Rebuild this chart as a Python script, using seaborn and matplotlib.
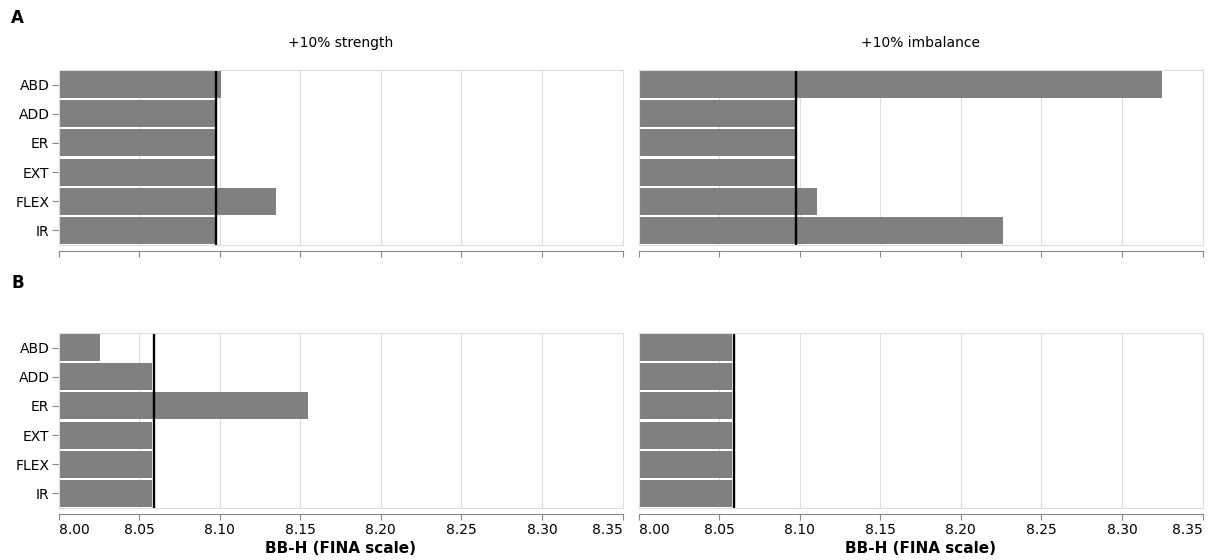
import pandas as pd
import seaborn as sns
import matplotlib.pyplot as plt
from matplotlib.patches import Rectangle

# Data
muscles = ["ABD", "ADD", "ER", "EXT", "FLEX", "IR"]
conditions = ["+10% strength", "+10% imbalance"]
a_strength = [8.101, 8.097, 8.097, 8.097, 8.135, 8.097]
a_imbalance = [8.325, 8.097, 8.097, 8.097, 8.111, 8.226]
b_strength = [8.026, 8.058, 8.155, 8.058, 8.058, 8.058]
b_imbalance = [8.058, 8.058, 8.058, 8.058, 8.058, 8.058]
baseline_a = 8.098
baseline_b = 8.059
x_ticks = [8.00, 8.05, 8.10, 8.15, 8.20, 8.25, 8.30, 8.35]
x_title = "BB-H (FINA scale)"


def build_frame():
    rows = []
    series = {("A", conditions[0]): a_strength, ("A", conditions[1]): a_imbalance,
              ("B", conditions[0]): b_strength, ("B", conditions[1]): b_imbalance}
    for (panel, cond), vals in series.items():
        for m, v in zip(muscles, vals):
            rows.append({"panel": panel, "condition": cond, "muscle": m, "score": v})
    return pd.DataFrame(rows)


def run():
    df = build_frame()
    baselines = {"A": baseline_a, "B": baseline_b}

    sns.set_theme(style="white")
    plt.rcParams["font.family"] = ["DejaVu Sans"]
    plt.rcParams["text.color"] = "black"
    plt.rcParams["axes.labelcolor"] = "black"
    plt.rcParams["xtick.labelcolor"] = "black"
    plt.rcParams["ytick.labelcolor"] = "black"

    W, H = 1209, 560
    fig = plt.figure(figsize=(W / 100, H / 100), dpi=100)

    def px_axes(x0, top, w, h):
        return fig.add_axes([x0 / W, 1 - (top + h) / H, w / W, h / H])

    col_x = [58.5, 638.5]
    row_top = {"A": 70, "B": 333}
    aw, ah = 564, 175

    for panel in ["A", "B"]:
        for ci, cond in enumerate(conditions):
            ax = px_axes(col_x[ci], row_top[panel], aw, ah)
            sub = df[(df.panel == panel) & (df.condition == cond)]
            sns.barplot(data=sub, x="score", y="muscle", order=muscles, orient="h",
                        color="#808080", saturation=1, width=0.93, linewidth=0,
                        errorbar=None, ax=ax)
            ax.axvline(baselines[panel], color="black", lw=1.7, zorder=5)
            ax.set_xlim(8.0, 8.35)
            ax.set_ylim(5.5, -0.5)
            ax.set_xticks(x_ticks, labels=[f"{t:.2f}" for t in x_ticks])
            ax.set_axisbelow(True)
            ax.grid(axis="x", color="#dddddd", lw=0.8)
            ax.grid(axis="y", visible=False)

            for s in ["left", "right", "top"]:
                ax.spines[s].set_visible(False)
            ax.spines["bottom"].set_position(("outward", 4.2))
            ax.spines["bottom"].set_color("#888888")
            ax.spines["bottom"].set_linewidth(0.8)
            ax.add_patch(Rectangle((0, 0), 1, 1, transform=ax.transAxes, fill=False,
                                   edgecolor="#dddddd", lw=0.8, zorder=6, clip_on=False))

            ax.tick_params(axis="x", direction="out", length=4, width=0.8,
                           color="#888888", labelsize=10, pad=2.5, bottom=True)
            ax.tick_params(axis="y", direction="out", length=5, width=0.8,
                           color="#888888", labelsize=10, pad=1.5, left=True)
            ax.set_ylabel("")
            ax.set_xlabel("")

            if panel == "A":
                ax.tick_params(axis="x", labelbottom=False)
                fig.text((col_x[ci] + aw / 2) / W, 1 - 43 / H, cond, ha="center",
                         va="center", fontsize=10)
            else:
                ticks = ax.xaxis.get_major_ticks()
                ticks[0].label1.set_horizontalalignment("left")
                ticks[-1].label1.set_horizontalalignment("right")
                ax.set_xlabel(x_title, fontsize=11, fontweight="bold", labelpad=3)
            if ci == 1:
                ax.tick_params(axis="y", left=False, labelleft=False)

    fig.text(11 / W, 1 - 18 / H, "A", fontsize=12, fontweight="bold", va="center", ha="left")
    fig.text(11 / W, 1 - 283 / H, "B", fontsize=12, fontweight="bold", va="center", ha="left")

    fig.savefig("out.png", dpi=100)


if __name__ == "__main__":
    run()
